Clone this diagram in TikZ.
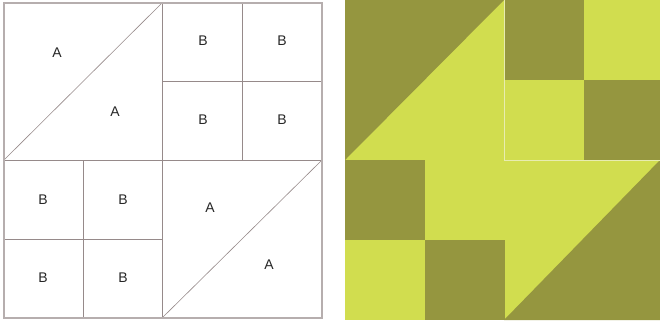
\documentclass[tikz,border=0pt]{standalone}
\usepackage{fontspec}
\setmainfont{Liberation Sans}
\definecolor{olive}{RGB}{149,150,63}
\definecolor{lime}{RGB}{209,221,79}
\definecolor{seam}{RGB}{150,138,138}
\definecolor{rim}{RGB}{182,174,174}
\definecolor{crease}{RGB}{232,236,176}
\tikzset{
  patch/.style={font=\fontsize{14}{16}\selectfont,text=black!85},
  seamline/.style={draw=seam,line width=0.6pt},
}
\begin{document}
\begin{tikzpicture}[x=1pt,y=-1pt]
    \useasboundingbox (0,0) rectangle (660,322);

    % template block
    \foreach \xx in {4,162}{
        \draw[seamline] (\xx,3) -- (\xx,318);
    }
    \draw[seamline] (4,160) -- (322,160);
    \draw[seamline] (242,3) -- (242,160);
    \draw[seamline] (162,81) -- (322,81);
    \draw[seamline] (83,160) -- (83,318);
    \draw[seamline] (4,239) -- (162,239);
    \draw[seamline] (4,160) -- (162,3);
    \draw[seamline] (162,318) -- (322,160);
    \draw[draw=rim,line width=1.6pt] (4,3) rectangle (322,318);

    \node[patch] (a1) at (57,53) {A};
    \node[patch] (a2) at (115,112) {A};
    \node[patch] (a3) at (210,208) {A};
    \node[patch] (a4) at (269,265) {A};
    \foreach \px/\py [count=\i] in {203/41,282/41,203/120,282/120,43/200,123/200,43/278,123/278}{
        \node[patch] (b\i) at (\px,\py) {B};
    }

    % coloured block
    \fill[lime] (345,0) rectangle (660,320);
    \fill[olive] (345,0) -- (504,0) -- (345,160) -- cycle;
    \fill[olive] (504,320) -- (660,320) -- (660,160) -- cycle;
    \foreach \qx/\qy in {504/0,584/80,345/160,425/240}{
        \fill[olive] (\qx,\qy) rectangle ++(80,80);
    }
    \draw[crease,line width=0.7pt] (504,0) -- (504,160) -- (660,160);
\end{tikzpicture}
\end{document}
